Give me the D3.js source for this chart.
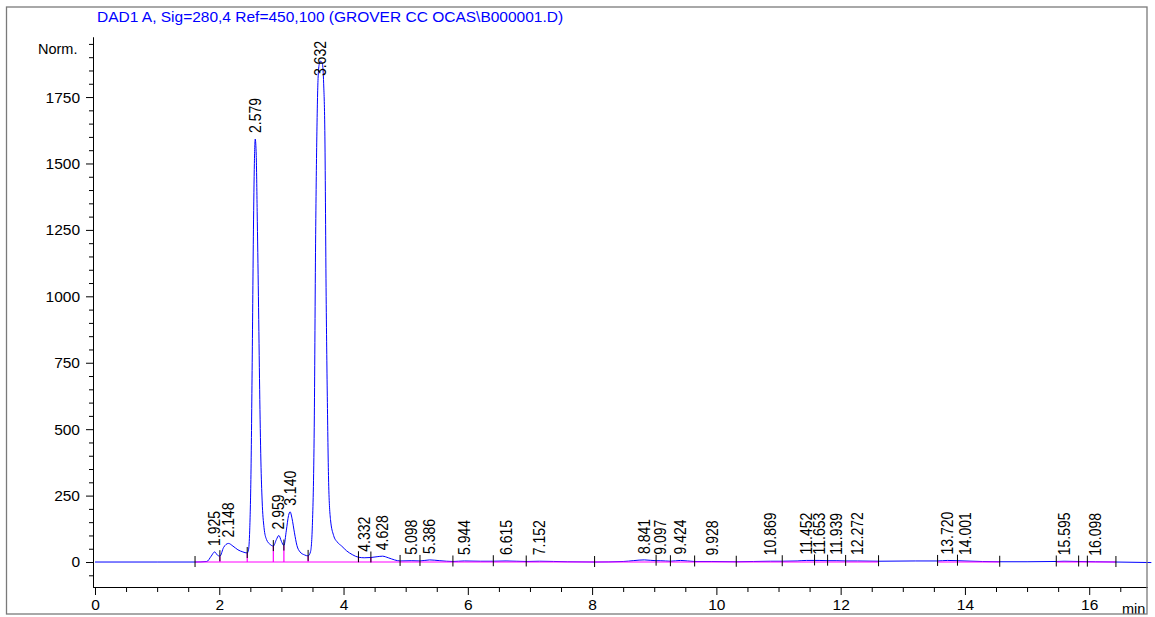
<!DOCTYPE html>
<html>
<head>
<meta charset="utf-8">
<script src="https://cdn.jsdelivr.net/npm/d3@7"></script>
<style>
  body { margin: 0; background: #fff; }
  svg { display: block; font-family: "Liberation Sans", Arial, sans-serif; }
</style>
</head>
<body>
<div id="chart"></div>
<script>
// signal title
var title = 'DAD1 A, Sig=280,4 Ref=450,100 (GROVER CC OCAS\\B000001.D)'

// trace: [time (min), signal (Norm.)]
var trace = [
  [0, 0], [1.0, 0], [1.61, 0], [1.80, 2], [1.87, 22], [1.925, 38], [1.97, 26], [2.01, 22],
  [2.07, 55], [2.148, 70], [2.22, 60], [2.30, 46], [2.38, 38], [2.45, 34], [2.47, 45],
  [2.49, 120], [2.51, 330], [2.53, 750], [2.55, 1250], [2.565, 1500], [2.579, 1592],
  [2.595, 1530], [2.61, 1320], [2.63, 1000], [2.65, 650], [2.67, 380], [2.69, 230],
  [2.72, 130], [2.76, 85], [2.82, 66], [2.87, 60], [2.92, 85], [2.959, 100], [3.00, 78],
  [3.04, 62], [3.08, 120], [3.115, 175], [3.14, 189], [3.17, 165], [3.21, 110], [3.25, 62],
  [3.30, 38], [3.37, 27], [3.43, 23], [3.47, 40], [3.50, 150], [3.53, 550], [3.55, 1200],
  [3.57, 1600], [3.59, 1820], [3.61, 1875], [3.632, 1885], [3.66, 1875], [3.68, 1800],
  [3.70, 1600], [3.72, 1000], [3.74, 600], [3.76, 300], [3.79, 160], [3.84, 100],
  [3.90, 75], [3.97, 60], [4.05, 42], [4.14, 28], [4.24, 18], [4.332, 16], [4.44, 17],
  [4.54, 20], [4.628, 22], [4.72, 16], [4.82, 8], [4.91, 4], [5.098, 5], [5.23, 4],
  [5.386, 8], [5.55, 5], [5.76, 2], [5.944, 4], [6.2, 3], [6.41, 3], [6.615, 4], [6.94, 2],
  [7.152, 3], [7.6, 1], [8.04, 0], [8.5, 2], [8.841, 8], [9.03, 5], [9.097, 5], [9.26, 3],
  [9.424, 6], [9.65, 2], [9.928, 2], [10.32, 1], [10.869, 3], [11.06, 3], [11.3, 4],
  [11.452, 6], [11.653, 6], [11.79, 5], [11.939, 5], [12.08, 4], [12.272, 4], [12.61, 3],
  [13.2, 4], [13.56, 4], [13.72, 6], [13.88, 5], [14.001, 4], [14.56, 1], [15.0, 1],
  [15.47, 2], [15.595, 3], [15.83, 2], [16.098, 1], [16.43, 0], [17.0, -2]
]

// retention time labels
var peakLabels = ['1.925', '2.148', '2.579', '2.959', '3.140', '3.632', '4.332', '4.628',
  '5.098', '5.386', '5.944', '6.615', '7.152', '8.841', '9.097', '9.424', '9.928',
  '10.869', '11.452', '11.653', '11.939', '12.272', '13.720', '14.001', '15.595', '16.098']

// integration events (peak start/end marks)
var boundaryTimes = [1.61, 2.01, 2.45, 2.87, 3.04, 3.43, 4.24, 4.44, 4.91, 5.23, 5.76,
  6.41, 6.94, 8.04, 9.03, 9.26, 9.65, 10.32, 11.06, 11.58, 11.79, 12.08, 12.61, 13.56,
  13.88, 14.56, 15.47, 15.83, 15.97, 16.43]
// drop lines between unresolved peaks
var dropTimes = [2.01, 2.45, 2.87, 3.04, 3.43, 4.24, 4.44]
// baseline segments [start, end]
var baselineSegments = [[1.61, 12.61], [13.56, 14.56], [15.47, 16.43]]

// axis ticks
var xMajorTicks = [0, 2, 4, 6, 8, 10, 12, 14, 16]
var yMajorTicks = [0, 250, 500, 750, 1000, 1250, 1500, 1750]

var width = 1155
var height = 617

var svg = d3.select('#chart').append('svg')
  .attr('width', width)
  .attr('height', height)

var x = d3.scaleLinear().domain([-0.032, 16.93]).range([93, 1147])
var y = d3.scaleLinear().domain([-94, 1976]).range([587, 37])

// 插值取曲线值
var bis = d3.bisector(function (d) { return d[0] }).left
function signalAt (t) {
  var i = bis(trace, t)
  if (i <= 0) return trace[0][1]
  if (i >= trace.length) return trace[trace.length - 1][1]
  var a = trace[i - 1]
  var b = trace[i]
  return a[1] + (b[1] - a[1]) * (t - a[0]) / (b[0] - a[0])
}

// title
svg.append('text')
  .attr('x', 97)
  .attr('y', 22)
  .attr('fill', '#0000ff')
  .attr('font-size', '15.5px')
  .text(title)

svg.append('text')
  .attr('x', 38)
  .attr('y', 53.5)
  .attr('font-size', '14.5px')
  .text('Norm.')

// y axis
var yMinor = d3.range(-50, 1976, 50).filter(function (v) { return v % 250 !== 0 })
svg.append('g')
  .attr('transform', 'translate(93,0)')
  .call(d3.axisLeft(y).tickValues(yMinor).tickSize(4).tickSizeOuter(0).tickFormat(''))
svg.append('g')
  .attr('class', 'yAxis')
  .attr('transform', 'translate(93,0)')
  .call(d3.axisLeft(y).tickValues(yMajorTicks).tickSize(7).tickSizeOuter(0)
    .tickPadding(6).tickFormat(d3.format('d')))

// x axis
var xMinor = d3.range(0.5, 16.93, 0.5).filter(function (v) { return v % 2 !== 0 })
svg.append('g')
  .attr('transform', 'translate(0,587)')
  .call(d3.axisBottom(x).tickValues(xMinor).tickSize(5).tickSizeOuter(0).tickFormat(''))
svg.append('g')
  .attr('class', 'xAxis')
  .attr('transform', 'translate(0,587)')
  .call(d3.axisBottom(x).tickValues(xMajorTicks).tickSize(8).tickSizeOuter(0)
    .tickPadding(4).tickFormat(d3.format('d')))

svg.selectAll('.xAxis text, .yAxis text')
  .attr('font-size', '15.5px')
  .attr('font-family', '"Liberation Sans", Arial, sans-serif')
  .attr('fill', '#000')

svg.append('text')
  .attr('x', 1122)
  .attr('y', 614)
  .attr('font-size', '14.5px')
  .text('min')

// chromatogram
var line = d3.line()
  .x(function (d) { return x(d[0]) })
  .y(function (d) { return y(d[1]) })
  .curve(d3.curveMonotoneX)

svg.append('path')
  .datum(trace)
  .attr('fill', 'none')
  .attr('stroke', '#0000ff')
  .attr('stroke-width', 1)
  .attr('d', line)

// baseline
svg.selectAll('line.base')
  .data(baselineSegments)
  .enter()
  .append('line')
  .attr('class', 'base')
  .attr('x1', function (d) { return x(d[0]) })
  .attr('x2', function (d) { return x(d[1]) })
  .attr('y1', y(0))
  .attr('y2', y(0))
  .attr('stroke', '#ff00ff')
  .attr('stroke-width', 1.2)

// drop lines
svg.selectAll('line.drop')
  .data(dropTimes)
  .enter()
  .append('line')
  .attr('class', 'drop')
  .attr('x1', function (d) { return x(d) })
  .attr('x2', function (d) { return x(d) })
  .attr('y1', y(0))
  .attr('y2', function (d) { return y(signalAt(d)) })
  .attr('stroke', '#ff00ff')
  .attr('stroke-width', 1.2)

// event ticks
svg.selectAll('line.evt')
  .data(boundaryTimes)
  .enter()
  .append('line')
  .attr('class', 'evt')
  .attr('x1', function (d) { return x(d) })
  .attr('x2', function (d) { return x(d) })
  .attr('y1', function (d) { return y(signalAt(d)) - 6 })
  .attr('y2', function (d) { return y(signalAt(d)) + 5 })
  .attr('stroke', '#000')
  .attr('stroke-width', 1)

// peak labels (font a little narrow, like the original)
var squeeze = 0.875
svg.selectAll('text.mark')
  .data(peakLabels)
  .enter()
  .append('text')
  .attr('class', 'mark')
  .attr('font-size', '16px')
  .attr('dy', '0.35em')
  .text(function (d) { return d })
  .attr('transform', function (d) {
    var t = +d
    var len = this.getComputedTextLength() * squeeze
    var yy = Math.max(y(signalAt(t)) - 6, 41 + len)
    return 'translate(' + x(t) + ',' + yy + ') rotate(-90) scale(' + squeeze + ',1)'
  })

// frame
svg.append('rect')
  .attr('x', 6.5)
  .attr('y', 7)
  .attr('width', 1140.5)
  .attr('height', 607)
  .attr('fill', 'none')
  .attr('stroke', '#7a7a7a')
  .attr('stroke-width', 1.3)
</script>
</body>
</html>
